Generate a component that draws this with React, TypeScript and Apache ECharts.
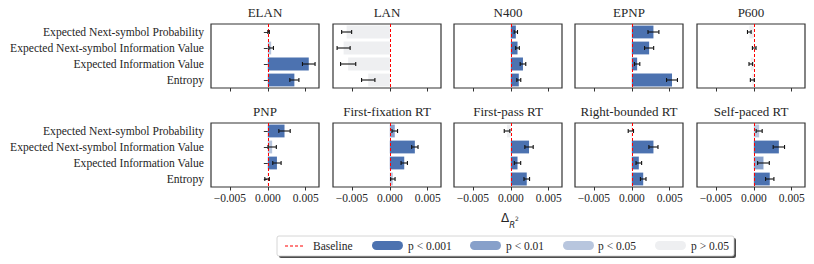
import React, { useEffect, useRef } from "react";
import * as echarts from "echarts";

const categories = [
  "Expected Next-symbol Probability",
  "Expected Next-symbol Information Value",
  "Expected Information Value",
  "Entropy",
];

const panelTitles = [
  "ELAN", "LAN", "N400", "EPNP", "P600",
  "PNP", "First-fixation RT", "First-pass RT", "Right-bounded RT", "Self-paced RT",
];

// Delta R^2 per panel, in category order
const deltaR2 = [
  [0.0001, 0.00044, 0.0054, 0.0035],
  [-0.0057, -0.0061, -0.0055, -0.00285],
  [0.00066, 0.00088, 0.0016, 0.00105],
  [0.00285, 0.00228, 0.0007, 0.0053],
  [-0.0006, 0.00005, -0.0004, -0.0002],
  [0.0022, 0.00057, 0.0012, -0.0001],
  [0.00065, 0.0033, 0.0019, 0.0004],
  [-0.0005, 0.0024, 0.00088, 0.0021],
  [-0.00013, 0.00285, 0.00092, 0.0015],
  [0.0007, 0.0033, 0.00127, 0.0021],
];

// error bar half widths
const errHalf = [
  [0.0001, 0.0003, 0.00083, 0.0006],
  [0.00066, 0.00086, 0.001, 0.00088],
  [0.00022, 0.00024, 0.00037, 0.00026],
  [0.00072, 0.0006, 0.00035, 0.00072],
  [0.00024, 0.00024, 0.00024, 0.00026],
  [0.00075, 0.00055, 0.00055, 0.0003],
  [0.00037, 0.00042, 0.00042, 0.00029],
  [0.00037, 0.00055, 0.00042, 0.00037],
  [0.00035, 0.0006, 0.00037, 0.00037],
  [0.0004, 0.00075, 0.00077, 0.00055],
];

// significance level: 0 = p<0.001, 1 = p<0.01, 2 = p<0.05, 3 = p>0.05
const significance = [
  [3, 2, 0, 0],
  [3, 3, 3, 3],
  [0, 0, 0, 0],
  [0, 0, 0, 0],
  [3, 3, 3, 3],
  [0, 2, 0, 3],
  [1, 0, 0, 2],
  [3, 0, 0, 0],
  [3, 0, 0, 0],
  [2, 0, 1, 0],
];

const levelLabels = ["p < 0.001", "p < 0.01", "p < 0.05", "p > 0.05"];
const levelColors = ["#4c72b0", "#87a0ca", "#b8c6de", "#eeeff1"];

const xTicks = [-0.005, 0, 0.005];
const X_MIN = -0.0075;
const X_MAX = 0.00675;

const SERIF = "'Liberation Serif', 'Times New Roman', serif";
const TEXT = "#262626";
const SPINE = "#333333";

function fmt(v: number): string {
  if (Math.abs(v) < 1e-12) return "0.000";
  return (v < 0 ? "\u2212" : "") + Math.abs(v).toFixed(3);
}

export default function App() {
  const ref = useRef<HTMLDivElement>(null);

  useEffect(() => {
    if (!ref.current) return;
    const chart = echarts.init(ref.current, null, { renderer: "svg" });

    const colLefts = [211, 333, 454, 575, 697];
    const rowTops = [24, 123];
    const W = 108;
    const H = 64;

    const grids: any[] = [];
    const xAxes: any[] = [];
    const yAxes: any[] = [];
    const series: any[] = [];
    const titles: any[] = [];

    panelTitles.forEach((title, i) => {
      const row = Math.floor(i / 5);
      const col = i % 5;
      const left = colLefts[col];
      const top = rowTops[row];
      grids.push({
        left,
        top,
        width: W,
        height: H,
        show: true,
        borderColor: SPINE,
        borderWidth: 1.2,
        backgroundColor: "transparent",
        containLabel: false,
      });
      titles.push({
        text: title,
        left: left + W / 2,
        top: top - 18.5,
        padding: 0,
        textAlign: "center",
        textStyle: { fontFamily: SERIF, fontSize: 13, fontWeight: "normal", color: TEXT },
      });
      xAxes.push({
        type: "value",
        gridIndex: i,
        min: X_MIN,
        max: X_MAX,
        splitLine: { show: false },
        axisLine: { show: false },
        axisTick: {
          show: true,
          length: 3.5,
          customValues: xTicks,
          lineStyle: { color: SPINE, width: 1 },
        },
        axisLabel: {
          show: row === 1,
          customValues: xTicks,
          formatter: (v: number) => fmt(v),
          fontFamily: SERIF,
          fontSize: 11.5,
          color: TEXT,
          margin: 5,
          showMinLabel: true,
          showMaxLabel: true,
        },
      });
      yAxes.push({
        type: "category",
        gridIndex: i,
        data: categories,
        inverse: true,
        axisLine: { show: false },
        axisTick: {
          show: col === 0,
          alignWithLabel: true,
          length: 4,
          lineStyle: { color: SPINE, width: 1 },
        },
        axisLabel: {
          show: col === 0,
          fontFamily: SERIF,
          fontSize: 11.6,
          color: TEXT,
          margin: 7,
        },
        splitLine: { show: false },
      });

      const vals = deltaR2[i];
      const errs = errHalf[i];
      const sig = significance[i];

      series.push({
        type: "bar",
        xAxisIndex: i,
        yAxisIndex: i,
        barWidth: "80%",
        silent: true,
        z: 2,
        data: vals.map((v, k) => ({
          value: v,
          itemStyle: { color: levelColors[sig[k]] },
        })),
      });
      series.push({
        type: "custom",
        xAxisIndex: i,
        yAxisIndex: i,
        silent: true,
        z: 4,
        data: vals.map((v, k) => [v, k, errs[k]]),
        renderItem: (params: any, api: any) => {
          const v = api.value(0);
          const k = api.value(1);
          const e = api.value(2);
          const p1 = api.coord([v - e, k]);
          const p2 = api.coord([v + e, k]);
          const cap = 2;
          const style = { stroke: "#111", lineWidth: 1.1 };
          return {
            type: "group",
            children: [
              { type: "line", shape: { x1: p1[0], y1: p1[1], x2: p2[0], y2: p2[1] }, style },
              { type: "line", shape: { x1: p1[0], y1: p1[1] - cap, x2: p1[0], y2: p1[1] + cap }, style },
              { type: "line", shape: { x1: p2[0], y1: p2[1] - cap, x2: p2[0], y2: p2[1] + cap }, style },
            ],
          };
        },
      });
      series.push({
        type: "line",
        xAxisIndex: i,
        yAxisIndex: i,
        data: [],
        z: 3,
        markLine: {
          silent: true,
          symbol: ["none", "none"],
          label: { show: false },
          lineStyle: { color: "#ff0000", type: [3, 2], width: 1 },
          data: [{ xAxis: 0 }],
          z: 3,
        },
      });
    });

    // Legend
    const lx = 277;
    const ly = 236;
    const lw = 457;
    const lh = 20;
    const cy = ly + lh / 2;
    const legendChildren: any[] = [
      {
        type: "rect",
        shape: { x: lx + 2, y: ly + 2, width: lw, height: lh, r: 2 },
        style: { fill: "#4d4d4d" },
      },
      {
        type: "rect",
        shape: { x: lx, y: ly, width: lw, height: lh, r: 2 },
        style: { fill: "#ffffff", stroke: "#cccccc", lineWidth: 0.8 },
      },
      {
        type: "line",
        shape: { x1: 285, y1: cy, x2: 303, y2: cy },
        style: { stroke: "#ff0000", lineWidth: 1.2, lineDash: [3, 2] },
      },
      {
        type: "text",
        x: 313,
        y: cy,
        style: {
          text: "Baseline",
          fontFamily: SERIF,
          fontSize: 11.5,
          fill: TEXT,
          verticalAlign: "middle",
          align: "left",
        },
      },
    ];
    const pillX = [372, 470, 563, 655];
    const textX = [408, 506, 598, 691];
    levelLabels.forEach((lab, k) => {
      legendChildren.push({
        type: "rect",
        shape: { x: pillX[k], y: cy - 5, width: 31, height: 9, r: 4.5 },
        style: { fill: levelColors[k] },
      });
      legendChildren.push({
        type: "text",
        x: textX[k],
        y: cy,
        style: {
          text: lab,
          fontFamily: SERIF,
          fontSize: 11.5,
          fill: TEXT,
          verticalAlign: "middle",
          align: "left",
        },
      });
    });

    const graphic: any[] = [
      {
        type: "text",
        x: 501,
        y: 212,
        style: {
          text: "{d|Δ}{s|R}{p|2}",
          rich: {
            d: { fontFamily: "DejaVu Sans", fontSize: 12, fill: TEXT, verticalAlign: "top" },
            s: { fontFamily: "DejaVu Sans", fontStyle: "italic", fontSize: 8.5, fill: TEXT, padding: [8, 0, 0, 0] },
            p: { fontFamily: "DejaVu Sans", fontSize: 6, fill: TEXT, padding: [0, 0, 4, 0] },
          },
        },
      },
      { type: "group", children: legendChildren },
    ];

    chart.setOption({
      animation: false,
      backgroundColor: "#ffffff",
      title: titles,
      grid: grids,
      xAxis: xAxes,
      yAxis: yAxes,
      series,
      graphic,
    });

    return () => chart.dispose();
  }, []);

  return (
    <div
      ref={ref}
      style={{ position: "fixed", left: 0, top: 0, width: 814, height: 264 }}
    />
  );
}
